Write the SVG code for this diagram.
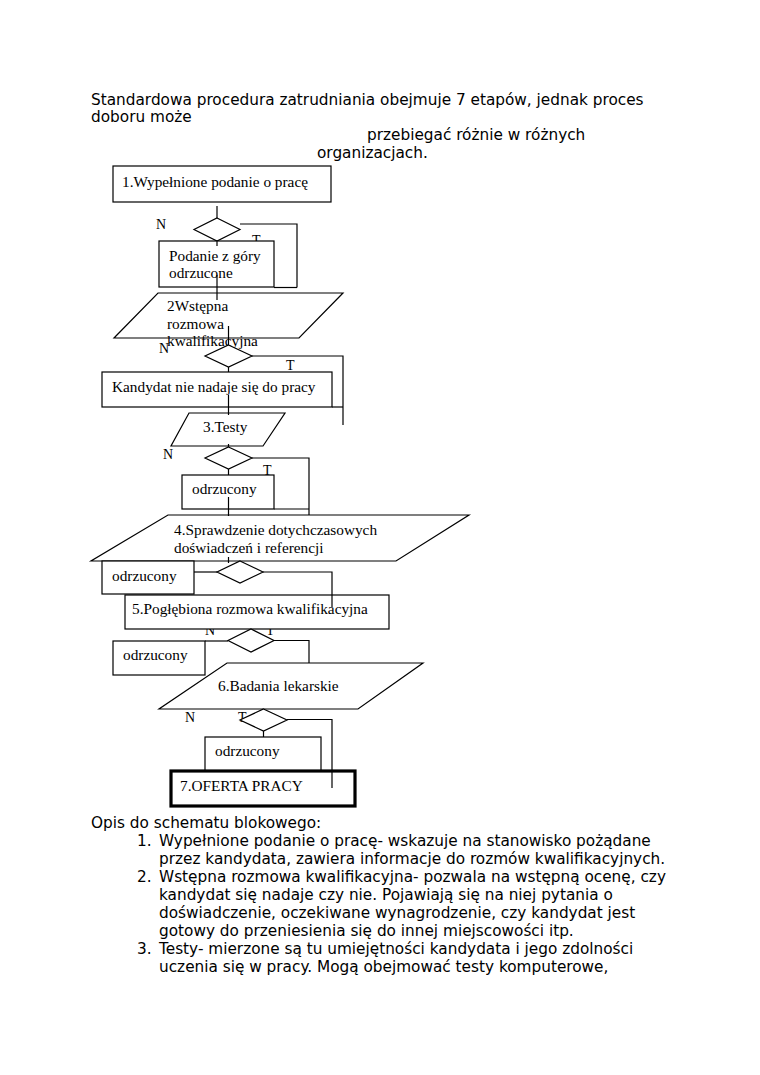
<svg xmlns="http://www.w3.org/2000/svg" width="760" height="1075" viewBox="0 0 760 1075">
<style>
.sans{font-family:"DejaVu Sans",sans-serif;font-size:15.3px;fill:#000}
.ser{font-family:"Liberation Serif",serif;font-size:15.3px;fill:#000}
.lbl{font-family:"Liberation Serif",serif;font-size:14px;fill:#000}
.sh{fill:#fff;stroke:#000;stroke-width:1.2}
.thick{fill:#fff;stroke:#000;stroke-width:3.2}
.con path{fill:none;stroke:#000;stroke-width:1.2}
</style>
<rect width="760" height="1075" fill="#fff"/>
<g id="header" class="sans">
<text x="91" y="105">Standardowa procedura zatrudniania obejmuje 7 etapów, jednak proces</text>
<text x="91" y="122">doboru może</text>
<text x="367" y="140">przebiegać różnie w różnych</text>
<text x="317" y="158">organizacjach.</text>
</g>
<g id="labels" class="lbl">
<text x="156" y="229">N</text>
<text x="252" y="245">T</text>
<text x="159" y="353">N</text>
<text x="286" y="370">T</text>
<text x="163" y="459">N</text>
<text x="263" y="475">T</text>
<text x="205" y="635">N</text>
<text x="266" y="635">T</text>
<text x="185" y="722">N</text>
<text x="238" y="722">T</text>
</g>
<g id="n1"><rect class="sh" x="113" y="166" width="218" height="36"/><text class="ser" x="122" y="187">1.Wypełnione podanie o pracę</text></g>
<g id="d1"><polygon class="sh" points="217,218 240,229.5 217,241 194,229.5"/></g>
<g id="n1r"><rect class="sh" x="159" y="241" width="115" height="46"/><text class="ser" x="169" y="261">Podanie z góry</text><text class="ser" x="169" y="278">odrzucone</text></g>
<g id="n2"><polygon class="sh" points="158,293 343,293 299,338 114,338"/><text class="ser" x="167" y="311">2Wstępna</text><text class="ser" x="167" y="329">rozmowa</text><text class="ser" x="167" y="346">kwalifikacyjna</text></g>
<g id="d2"><polygon class="sh" points="228.5,345 252,356 228.5,367 205,356"/></g>
<g id="n2r"><rect class="sh" x="102" y="372" width="230" height="35"/><text class="ser" x="112" y="392">Kandydat nie nadaje się do pracy</text></g>
<g id="n3"><polygon class="sh" points="189,413 285,413 263,446 171,446"/><text class="ser" x="203" y="432">3.Testy</text></g>
<g id="d3"><polygon class="sh" points="228.5,447 252,458 228.5,469 205,458"/></g>
<g id="n3r"><rect class="sh" x="182" y="475" width="92" height="34"/><text class="ser" x="192" y="494">odrzucony</text></g>
<g id="n4"><polygon class="sh" points="168,515 469,515 396,561 91,561"/><text class="ser" x="174" y="535">4.Sprawdzenie dotychczasowych</text><text class="ser" x="174" y="553">doświadczeń i referencji</text></g>
<g id="n4r"><rect class="sh" x="102" y="561" width="92" height="33"/><text class="ser" x="112" y="581">odrzucony</text></g>
<g id="d4"><polygon class="sh" points="240,561 263,572 240,583 217,572"/></g>
<g id="n5"><rect class="sh" x="125" y="595" width="264" height="34"/><text class="ser" x="132" y="614">5.Pogłębiona rozmowa kwalifikacyjna</text></g>
<g id="d5"><polygon class="sh" points="251,629 274,640.5 251,652 228,640.5"/></g>
<g id="n5r"><rect class="sh" x="113" y="641" width="92" height="34"/><text class="ser" x="123" y="660">odrzucony</text></g>
<g id="n6"><polygon class="sh" points="227,663 423,663 358,709 159,709"/><text class="ser" x="218" y="691">6.Badania lekarskie</text></g>
<g id="d6"><polygon class="sh" points="263.5,709 287,720 263.5,731 240,720"/></g>
<g id="n6r"><rect class="sh" x="205" y="737" width="116" height="34"/><text class="ser" x="215" y="756">odrzucony</text></g>
<g id="n7"><rect class="thick" x="171" y="771" width="184" height="35"/><text class="ser" x="180" y="791">7.OFERTA PRACY</text></g>
<g id="connectors" class="con">
<path d="M217,206V218"/>
<path d="M240,224H297V287.5"/>
<path d="M274,287.5H297"/>
<path d="M217,241V246"/>
<path d="M217,275V300"/>
<path d="M228.5,326V345"/>
<path d="M252,356H343V425"/>
<path d="M332,407H343"/>
<path d="M228.5,367V372"/>
<path d="M228.5,395V415"/>
<path d="M228.5,444V447"/>
<path d="M252,458H309V515"/>
<path d="M274,509H309"/>
<path d="M228.5,469V475"/>
<path d="M228.5,497V516"/>
<path d="M228.5,557V563"/>
<path d="M194,572H217"/>
<path d="M263,572H332V607"/>
<path d="M205,641H228"/>
<path d="M274,640.5H309V663"/>
<path d="M287,719.5H332V788"/>
<path d="M263.5,731V737"/>
</g>
<g id="description" class="sans">
<text x="91" y="828">Opis do schematu blokowego:</text>
<text x="137" y="846">1.</text>
<text x="159" y="846">Wypełnione podanie o pracę- wskazuje na stanowisko pożądane</text>
<text x="159" y="864">przez kandydata, zawiera informacje do rozmów kwalifikacyjnych.</text>
<text x="137" y="882">2.</text>
<text x="159" y="882">Wstępna rozmowa kwalifikacyjna- pozwala na wstępną ocenę, czy</text>
<text x="159" y="900">kandydat się nadaje czy nie. Pojawiają się na niej pytania o</text>
<text x="159" y="918">doświadczenie, oczekiwane wynagrodzenie, czy kandydat jest</text>
<text x="159" y="936">gotowy do przeniesienia się do innej miejscowości itp.</text>
<text x="137" y="954">3.</text>
<text x="159" y="954">Testy- mierzone są tu umiejętności kandydata i jego zdolności</text>
<text x="159" y="972">uczenia się w pracy. Mogą obejmować testy komputerowe,</text>
</g>
</svg>
